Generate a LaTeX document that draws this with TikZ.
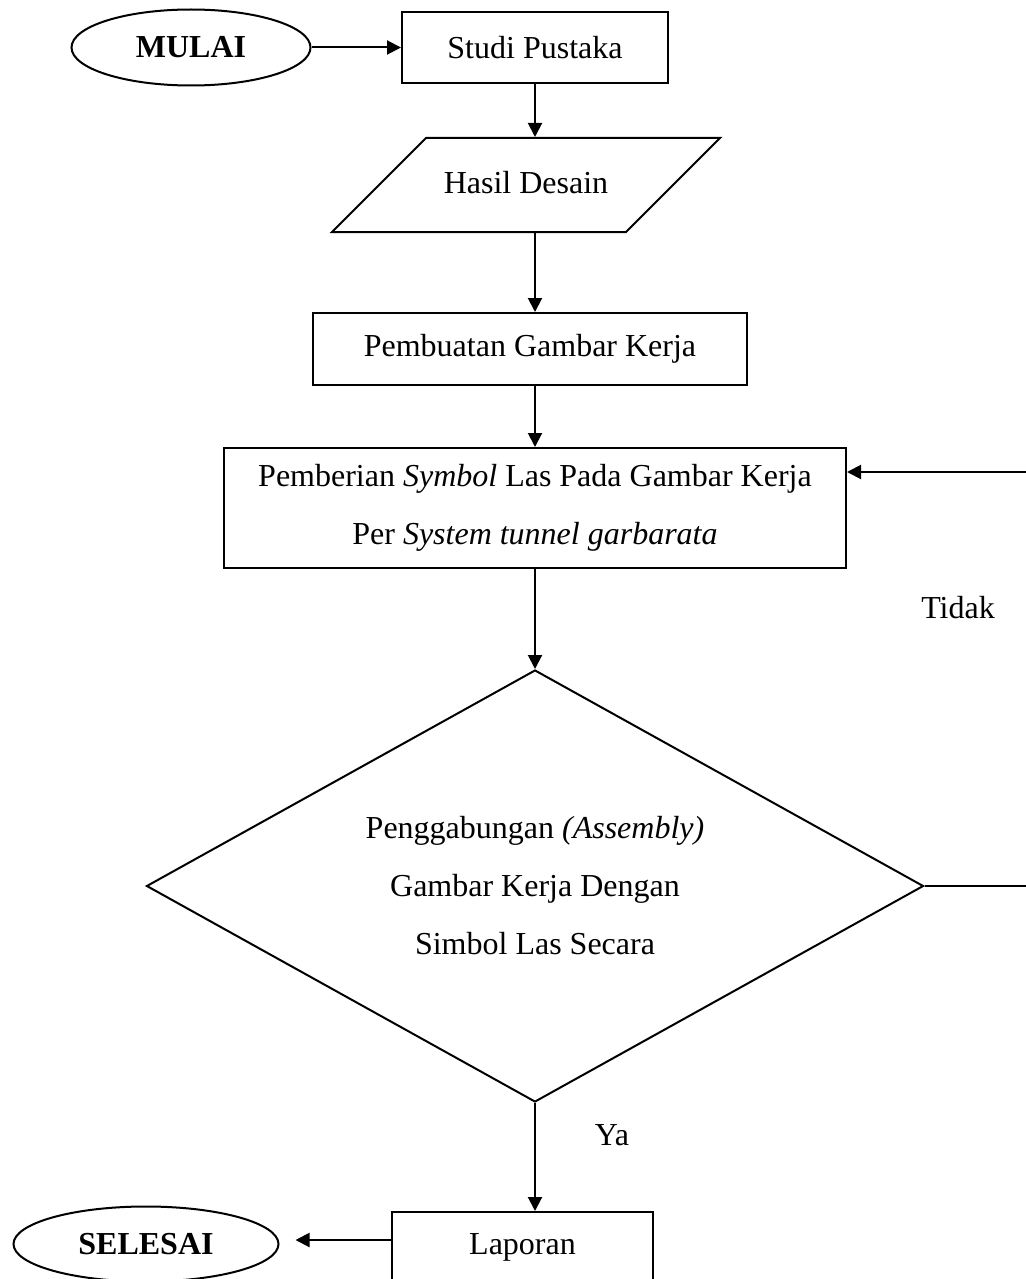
\documentclass[tikz,border=0pt]{standalone}
\usepackage{fontspec}
\setmainfont{Liberation Serif}
\usetikzlibrary{shapes.geometric,arrows.meta}
\begin{document}
\begin{tikzpicture}
    [x=0.5pt,y=-0.5pt,line width=1pt,>={Triangle[length=7pt,width=7pt]},
    every node/.style={font=\fontsize{16}{29}\selectfont},
    terminal/.style={ellipse,draw,inner sep=0pt,font=\fontsize{16}{29}\selectfont\bfseries},
    process/.style={rectangle,draw,inner sep=0pt,align=center},
    io/.style={trapezium,trapezium left angle=45,trapezium right angle=135,trapezium stretches body,draw,
        inner xsep=0pt,inner ysep=16.5pt,text height=11pt,text depth=3pt},
    decision/.style={diamond,draw,aspect=1.8,inner sep=0pt,align=center}]

    %\draw[help lines] (0,0) grid[step=100] (1026,1279);
    \useasboundingbox (0,0) rectangle (1026,1279);

    \node[terminal,minimum width=119.5pt,minimum height=38pt] (mulai) at (191,47.5) {MULAI};
    \node[process,minimum width=133pt,minimum height=35.5pt] (studi) at (535,47.5) {Studi Pustaka};
    \node[io,minimum width=194pt] (hasil) at (526,185) {Hasil Desain};
    \node[process,minimum width=217pt,minimum height=36pt] (pembuatan) at (530,349) {Pembuatan Gambar Kerja};
    \node[process,minimum width=311pt,minimum height=60pt] (pemberian) at (535,508)
        {Pemberian \textit{Symbol} Las Pada Gambar Kerja\\ Per \textit{System tunnel garbarata}};
    \node[decision,minimum width=388.5pt,minimum height=216pt] (gabung) at (535,886)
        {Penggabungan \textit{(Assembly)}\\ Gambar Kerja Dengan\\ Simbol Las Secara};
    \node[process,anchor=north,minimum width=130.5pt,inner ysep=5pt,text height=16pt,text depth=30pt] (laporan) at (522.5,1211) {Laporan};
    \node[terminal,minimum width=132.5pt,minimum height=37.5pt] (selesai) at (146,1244) {SELESAI};

    \node (tidak) at (958,608) {Tidak};
    \node (ya) at (612,1135) {Ya};
    \coordinate (balik) at (1034,886);

    \draw[->] (mulai.east) -- (studi.west);
    \draw[->] (studi.south) -- (studi.south |- hasil.north);
    \draw[->] (studi.south |- hasil.south) -- (studi.south |- pembuatan.north);
    \draw[->] (studi.south |- pembuatan.south) -- (studi.south |- pemberian.north);
    \draw[->] (pemberian.south) -- (gabung.north);
    \draw[->] (gabung.south) -- (gabung.south |- laporan.north);
    \draw[->] (gabung.east) -- (balik) |- ([yshift=18pt]pemberian.east);
    \draw[->,shorten >=8pt] (laporan.west |- 0,1240) -- (selesai.east |- 0,1240);
\end{tikzpicture}
\end{document}
